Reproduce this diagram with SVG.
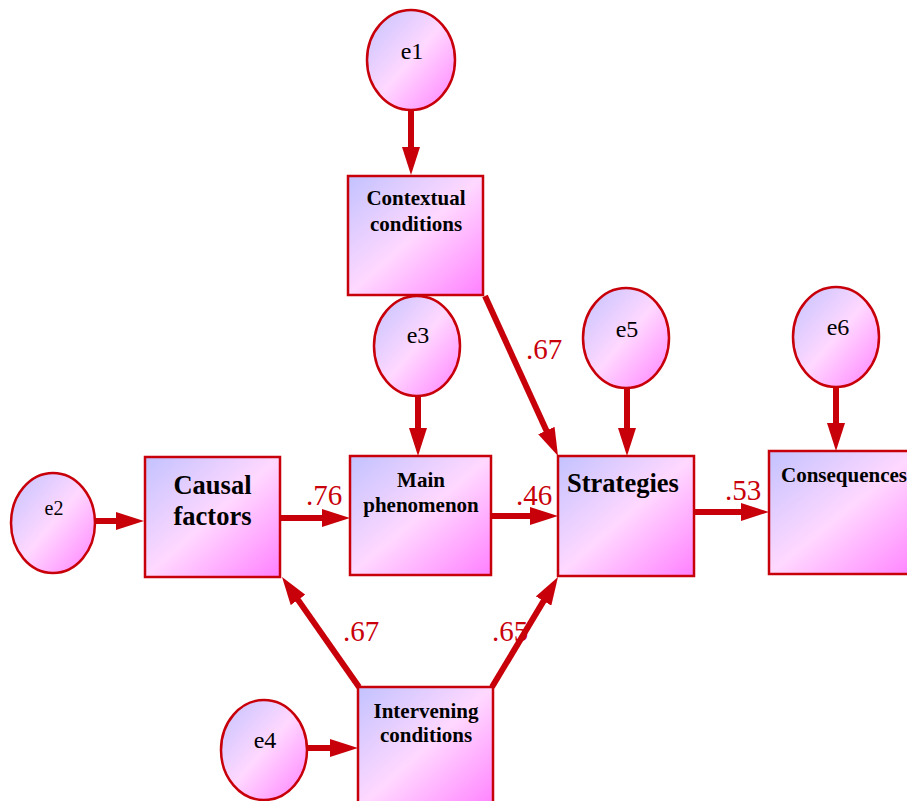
<svg xmlns="http://www.w3.org/2000/svg" width="907" height="801" viewBox="0 0 907 801">
<style>
.box{stroke:#c8000a;stroke-width:2.5;fill:url(#g)}
.err{stroke:#c8000a;stroke-width:2.5;fill:url(#g)}
.t{font-family:"Liberation Serif","Times New Roman",serif;font-weight:bold;font-size:21px;fill:#000;text-anchor:middle}
.tb{font-family:"Liberation Serif","Times New Roman",serif;font-weight:bold;font-size:26.5px;fill:#000;text-anchor:middle}
.e{font-family:"Liberation Serif","Times New Roman",serif;font-size:24px;fill:#000;text-anchor:middle}
.lab{font-family:"Liberation Serif","Times New Roman",serif;font-size:29px;fill:#c8000a}
.c line{stroke:#c8000a;stroke-width:6;marker-end:url(#ah)}
</style>
<defs>
<linearGradient id="g" x1="0" y1="0" x2="1" y2="1">
<stop offset="0" stop-color="#c2c2ff"/>
<stop offset="0.5" stop-color="#ffd8ff"/>
<stop offset="1" stop-color="#ff80ff"/>
</linearGradient>
<marker id="ah" markerUnits="userSpaceOnUse" viewBox="0 0 28 18" markerWidth="28" markerHeight="18" refX="8" refY="9" orient="auto">
<path d="M0,0 L28,9 L0,18 z" fill="#c8000a"/>
</marker>
</defs>
<g id="connectors" class="c">
<line x1="411" y1="110" x2="411" y2="155"/>
<line x1="95" y1="521" x2="124" y2="521"/>
<line x1="418" y1="396" x2="418" y2="436"/>
<line x1="281" y1="518" x2="330" y2="518"/>
<line x1="491" y1="516" x2="538" y2="516"/>
<line x1="694" y1="512" x2="749" y2="512"/>
<line x1="627" y1="388" x2="627" y2="436"/>
<line x1="836" y1="387" x2="836" y2="431"/>
<line x1="307" y1="748" x2="338" y2="748"/>
<line x1="485" y1="296" x2="549.7" y2="437.8"/>
<line x1="359" y1="687" x2="293.5" y2="593.4"/>
<line x1="492" y1="687" x2="547.7" y2="594.1"/>
</g>
<g id="labels">
<text class="lab" x="526" y="359">.67</text>
<text class="lab" x="306" y="505">.76</text>
<text class="lab" x="516" y="505">.46</text>
<text class="lab" x="725" y="500">.53</text>
<text class="lab" x="343" y="641">.67</text>
<text class="lab" x="492" y="641">.65</text>
</g>
<g id="e1"><ellipse class="err" cx="411" cy="60" rx="44" ry="50"/><text class="e" x="412" y="59">e1</text></g>
<g id="e2"><ellipse class="err" cx="53" cy="523" rx="42" ry="50"/><text class="e" x="54" y="515" style="font-size:20px">e2</text></g>
<g id="e3"><ellipse class="err" cx="417" cy="346" rx="43" ry="50"/><text class="e" x="418" y="343">e3</text></g>
<g id="e4"><ellipse class="err" cx="264" cy="750" rx="43" ry="50"/><text class="e" x="265" y="748">e4</text></g>
<g id="e5"><ellipse class="err" cx="626" cy="338" rx="43" ry="50"/><text class="e" x="627" y="337">e5</text></g>
<g id="e6"><ellipse class="err" cx="836" cy="337" rx="43" ry="50"/><text class="e" x="838" y="335">e6</text></g>
<g id="contextual"><rect class="box" x="348" y="176" width="135" height="119"/><text class="t" x="416" y="205">Contextual</text><text class="t" x="416" y="231">conditions</text></g>
<g id="causal"><rect class="box" x="145" y="457" width="135" height="120"/><text class="tb" x="212.5" y="494">Causal</text><text class="tb" x="212.5" y="525">factors</text></g>
<g id="main"><rect class="box" x="350" y="456" width="141" height="119"/><text class="t" x="421" y="487">Main</text><text class="t" x="421" y="512">phenomenon</text></g>
<g id="strategies"><rect class="box" x="558" y="456" width="136" height="120"/><text class="tb" x="567" y="492" style="text-anchor:start">Strategies</text></g>
<g id="consequences"><rect class="box" x="769" y="451" width="150" height="123"/><text class="t" x="781" y="482" style="text-anchor:start">Consequences</text></g>
<g id="intervening"><rect class="box" x="358" y="687" width="135" height="122"/><text class="t" x="426" y="718">Intervening</text><text class="t" x="426" y="742">conditions</text></g>
</svg>
